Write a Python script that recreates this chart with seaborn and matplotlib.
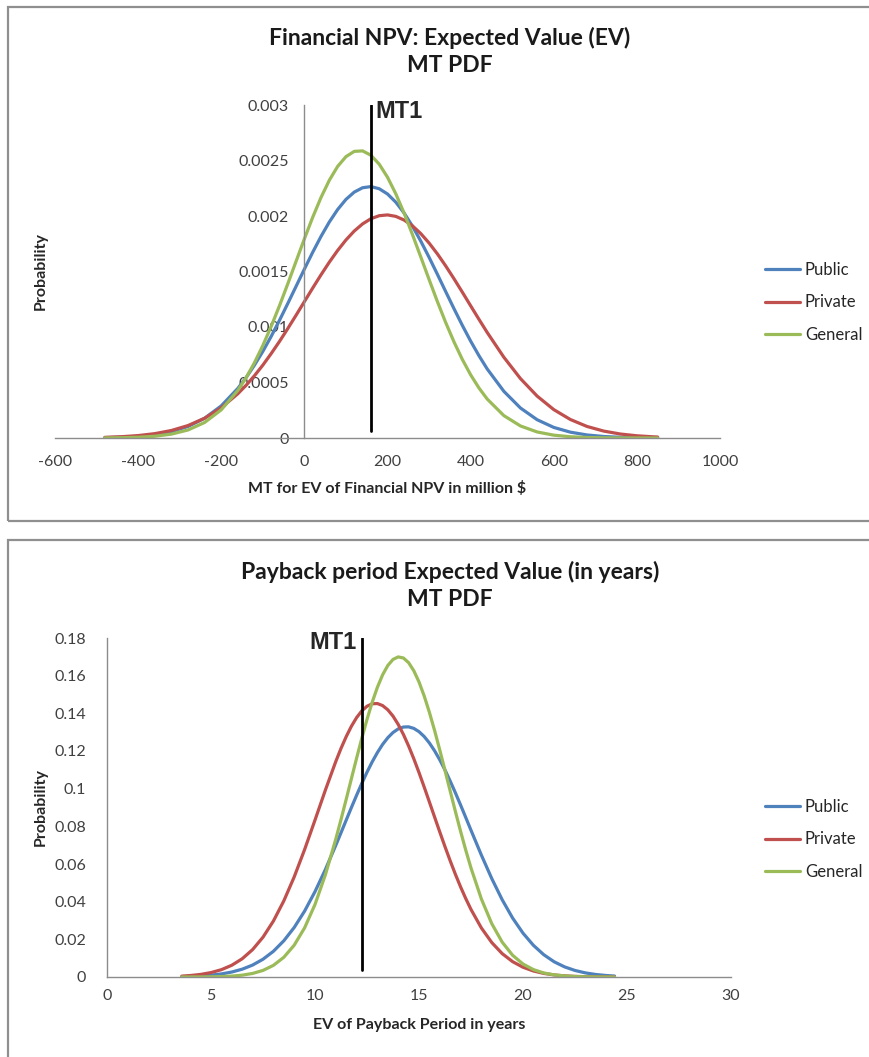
import numpy as np
import pandas as pd
import seaborn as sns
import matplotlib.pyplot as plt
from matplotlib.patches import Rectangle

# Top chart: Financial NPV, MT PDF
npv_x = [-480, -440, -400, -360, -320, -280, -240, -200, -160,
         -140, -120, -100, -80, -60, -40, -20, 0, 20, 40, 60, 80, 100, 120, 140,
         160, 180, 200, 220, 240, 260, 280, 300, 320, 340, 360, 380, 400, 420, 440,
         480, 520, 560, 600, 640, 680, 720, 760, 800, 840, 850]
npv_public = [0.0000032, 0.0000072, 0.0000151, 0.0000303, 0.0000575, 0.0001037,
              0.0001780, 0.0002895, 0.0004473,
              0.0005454, 0.0006569, 0.0007799, 0.0009144, 0.0010592, 0.0012111,
              0.0013660, 0.0015214, 0.0016730, 0.0018159, 0.0019459, 0.0020582,
              0.0021493, 0.0022154, 0.0022544, 0.0022650, 0.0022457, 0.0021984,
              0.0021243, 0.0020267, 0.0019085, 0.0017742, 0.0016281, 0.0014752,
              0.0013191, 0.0011649, 0.0010150, 0.0008732, 0.0007418, 0.0006215,
              0.0004204, 0.0002700, 0.0001647, 0.0000954, 0.0000525, 0.0000274,
              0.0000136, 0.0000064, 0.0000029, 0.0000012, 0.0000010]
npv_private = [0.0000060, 0.0000117, 0.0000218, 0.0000392, 0.0000676, 0.0001121,
               0.0001781, 0.0002720, 0.0003990,
               0.0004757, 0.0005616, 0.0006563, 0.0007598, 0.0008693, 0.0009855,
               0.0011059, 0.0012283, 0.0013507, 0.0014701, 0.0015841, 0.0016894,
               0.0017839, 0.0018645, 0.0019288, 0.0019754, 0.0020026, 0.0020098,
               0.0019965, 0.0019634, 0.0019113, 0.0018418, 0.0017567, 0.0016589,
               0.0015505, 0.0014347, 0.0013141, 0.0011913, 0.0010695, 0.0009501,
               0.0007274, 0.0005349, 0.0003777, 0.0002559, 0.0001666, 0.0001041,
               0.0000625, 0.0000360, 0.0000199, 0.0000106, 0.0000090]
npv_general = [0.0000010, 0.0000026, 0.0000066, 0.0000157, 0.0000349, 0.0000723,
               0.0001400, 0.0002537, 0.0004292,
               0.0005444, 0.0006789, 0.0008327, 0.0010042, 0.0011906, 0.0013881,
               0.0015913, 0.0017938, 0.0019881, 0.0021668, 0.0023219, 0.0024465,
               0.0025346, 0.0025822, 0.0025866, 0.0025475, 0.0024672, 0.0023494,
               0.0021997, 0.0020254, 0.0018335, 0.0016320, 0.0014286, 0.0012294,
               0.0010404, 0.0008658, 0.0007081, 0.0005696, 0.0004507, 0.0003505,
               0.0002016, 0.0001084, 0.0000545, 0.0000256, 0.0000112, 0.0000046,
               0.0000018, 0.0000006, 0.0000002, 0.0000001, 0.0]
npv_mt1 = 161

# Bottom chart: Payback period, MT PDF
pay_x = [3.6, 4.0, 4.5, 5.0, 5.5, 6.0, 6.5, 7.0, 7.5, 8.0, 8.5, 9.0, 9.5, 10.0, 10.5,
         11.0, 11.25, 11.5, 11.75, 12.0, 12.25, 12.5, 12.75, 13.0, 13.25, 13.5,
         13.75, 14.0, 14.25, 14.5, 14.75, 15.0, 15.25, 15.5, 15.75, 16.0, 16.25,
         16.5, 16.75, 17.0, 17.25, 17.5,
         18.0, 18.5, 19.0, 19.5, 20.0, 20.5, 21.0, 21.5, 22.0, 22.5, 23.0, 23.5,
         24.0, 24.4]
pay_public = [0.000204, 0.000327, 0.000574, 0.000981, 0.001631, 0.002637, 0.004148,
              0.006343, 0.009435, 0.01365, 0.01922, 0.0263, 0.0350, 0.04533, 0.05709,
              0.06993, 0.07659, 0.0833, 0.08998, 0.0965, 0.1028, 0.10875, 0.11424,
              0.11918, 0.12349, 0.12705, 0.12982, 0.13172, 0.13273, 0.13283, 0.132,
              0.13027, 0.12768, 0.12426, 0.1201, 0.11528, 0.1099, 0.10402, 0.09779,
              0.09129, 0.08463, 0.07792,
              0.0647, 0.05223, 0.04101, 0.03132, 0.02328, 0.01683, 0.01182, 0.00807,
              0.00537, 0.00347, 0.00218, 0.00133, 0.000794, 0.000514]
pay_private = [0.000478, 0.000773, 0.001369, 0.002345, 0.00389, 0.006242, 0.009687,
               0.01455, 0.02114, 0.02971, 0.0404, 0.05315, 0.06766, 0.08333, 0.09928,
               0.11445, 0.12137, 0.12763, 0.13314, 0.13773, 0.1413, 0.14377, 0.14508,
               0.1452, 0.14412, 0.14188, 0.13853, 0.13413, 0.12881, 0.12268, 0.11588,
               0.10855, 0.10085, 0.09292, 0.08493, 0.07697, 0.06919, 0.06168, 0.05453,
               0.04782, 0.04159, 0.03586,
               0.02602, 0.01828, 0.01241, 0.008156, 0.005184, 0.003189, 0.001899,
               0.001093, 0.000609, 0.000328, 0.000171, 0.000086, 0.000042, 0.000023]
pay_general = [0.0000086, 0.000018, 0.000044, 0.000102, 0.000227, 0.000481, 0.000975,
               0.001889, 0.003497, 0.006181, 0.010453, 0.016895, 0.026095, 0.0385, 0.05432,
               0.07322, 0.0836, 0.09435, 0.1053, 0.1162, 0.12677, 0.13677, 0.14588,
               0.15385, 0.16043, 0.1654, 0.16862, 0.16996, 0.16939, 0.16691, 0.16262,
               0.15667, 0.14921, 0.14052, 0.13087, 0.12048, 0.10968, 0.09872, 0.08787,
               0.07732, 0.06727, 0.05787,
               0.0414, 0.0283, 0.0185, 0.01155, 0.006894, 0.003932, 0.002144,
               0.001117, 0.000556, 0.000265, 0.00012, 0.000052, 0.000022, 0.00001]
pay_mt1 = 12.28

series_names = ['Public', 'Private', 'General']
series_colors = ['#4F81BD', '#C0504D', '#9BBB59']

npv_xticks = [-600, -400, -200, 0, 200, 400, 600, 800, 1000]
npv_yticks = [0, 0.0005, 0.001, 0.0015, 0.002, 0.0025, 0.003]
npv_ytick_labels = ['0', '0.0005', '0.001', '0.0015', '0.002', '0.0025', '0.003']
pay_xticks = [0, 5, 10, 15, 20, 25, 30]
pay_yticks = [0, 0.02, 0.04, 0.06, 0.08, 0.1, 0.12, 0.14, 0.16, 0.18]
pay_ytick_labels = ['0', '0.02', '0.04', '0.06', '0.08', '0.1', '0.12', '0.14', '0.16', '0.18']

sns.set_theme(style='white')
plt.rcParams['font.family'] = ['Lato', 'DejaVu Sans']

W, H = 870, 1057
fig = plt.figure(figsize=(W / 100, H / 100), dpi=100)
fig.patch.set_facecolor('white')

def long_df(x, ys):
    frames = [pd.DataFrame({'x': x, 'y': y, 'series': name}) for name, y in zip(series_names, ys)]
    return pd.concat(frames, ignore_index=True)

def px_box(left, top, right, bottom):
    # pixel box -> figure fraction [l, b, w, h]
    return [left / W, 1 - bottom / H, (right - left) / W, (bottom - top) / H]

def draw_panel(ax, x, ys, xticks, yticks, ylabels, mt1):
    df = long_df(x, ys)
    sns.lineplot(data=df, x='x', y='y', hue='series', hue_order=series_names,
                 palette=series_colors, linewidth=2.3, errorbar=None,
                 legend=False, sort=False, ax=ax)
    for ln in ax.lines:
        ln.set_solid_joinstyle('round')
    ax.set_xlim(xticks[0], xticks[-1])
    ax.set_ylim(yticks[0], yticks[-1])
    ax.set_xticks(xticks)
    ax.set_xticklabels([str(t) for t in xticks])
    ax.set_yticks(yticks)
    ax.set_yticklabels(ylabels)
    for s in ['top', 'right']:
        ax.spines[s].set_visible(False)
    for s in ['left', 'bottom']:
        ax.spines[s].set_color('#8c8c8c')
        ax.spines[s].set_linewidth(1.0)
    ax.spines['left'].set_position(('data', 0))
    ax.tick_params(length=0, labelsize=11.5, colors='#404040')
    ax.set_xlabel('')
    ax.set_facecolor('none')
    ax.axvline(mt1, ymin=0.022, ymax=1.0, color='black', linewidth=2)

def add_legend(ax, top_px):
    ax.legend(ax.lines[:3], series_names, loc='upper left',
              bbox_to_anchor=(765 / W, 1 - top_px / H), bbox_transform=fig.transFigure,
              frameon=False, fontsize=12, handlelength=2.1, handletextpad=0.3,
              labelspacing=0.98, borderpad=0, borderaxespad=0)

# panel frames
for (l, t, r, b) in [(8, 7, 880, 521), (8, 540, 880, 1070)]:
    fig.add_artist(Rectangle((l / W, 1 - b / H), (r - l) / W, (b - t) / H,
                             transform=fig.transFigure, fill=False,
                             edgecolor='#8f8f8f', linewidth=1.6))

# ---- top chart ----
ax1 = fig.add_axes(px_box(55, 105, 720, 438))
draw_panel(ax1, npv_x, [npv_public, npv_private, npv_general],
           npv_xticks, npv_yticks, npv_ytick_labels, npv_mt1)
ax1.tick_params(axis='y', pad=11)
ax1.tick_params(axis='x', pad=12)
ax1.set_xlabel('MT for EV of Financial NPV in million $', fontsize=11.5, fontweight='bold')
ax1.set_ylabel('Probability', fontsize=11.5, fontweight='bold')
ax1.xaxis.set_label_coords(0.5, -0.13)
ax1.yaxis.set_label_coords(-0.0105, 0.5)
ax1.text(npv_mt1 + 10, 1.014, 'MT1', transform=ax1.get_xaxis_transform(),
         ha='left', va='top', fontsize=17, fontweight='bold',
         family=['Liberation Sans', 'DejaVu Sans'])
add_legend(ax1, 262)
fig.text(450 / W, 1 - 38 / H, 'Financial NPV: Expected Value (EV)', ha='center', va='center',
         fontsize=16.5, fontweight='bold', color='#1a1a1a')
fig.text(450 / W, 1 - 66 / H, 'MT PDF', ha='center', va='center',
         fontsize=16.5, fontweight='bold', color='#1a1a1a')

# ---- bottom chart ----
ax2 = fig.add_axes(px_box(107, 638, 731, 977))
draw_panel(ax2, pay_x, [pay_public, pay_private, pay_general],
           pay_xticks, pay_yticks, pay_ytick_labels, pay_mt1)
ax2.tick_params(axis='y', pad=15)
ax2.tick_params(axis='x', pad=9)
ax2.set_xlabel('EV of Payback Period in years', fontsize=11.5, fontweight='bold')
ax2.set_ylabel('Probability', fontsize=11.5, fontweight='bold')
ax2.xaxis.set_label_coords(0.5, -0.122)
ax2.yaxis.set_label_coords(-0.0946, 0.5)
ax2.text(pay_mt1 - 0.26, 1.02, 'MT1', transform=ax2.get_xaxis_transform(),
         ha='right', va='top', fontsize=17, fontweight='bold',
         family=['Liberation Sans', 'DejaVu Sans'])
add_legend(ax2, 799)
fig.text(450 / W, 1 - 572 / H, 'Payback period Expected Value (in years)', ha='center', va='center',
         fontsize=16.5, fontweight='bold', color='#1a1a1a')
fig.text(450 / W, 1 - 600 / H, 'MT PDF', ha='center', va='center',
         fontsize=16.5, fontweight='bold', color='#1a1a1a')

fig.savefig('out.png', dpi=100, facecolor='white')
